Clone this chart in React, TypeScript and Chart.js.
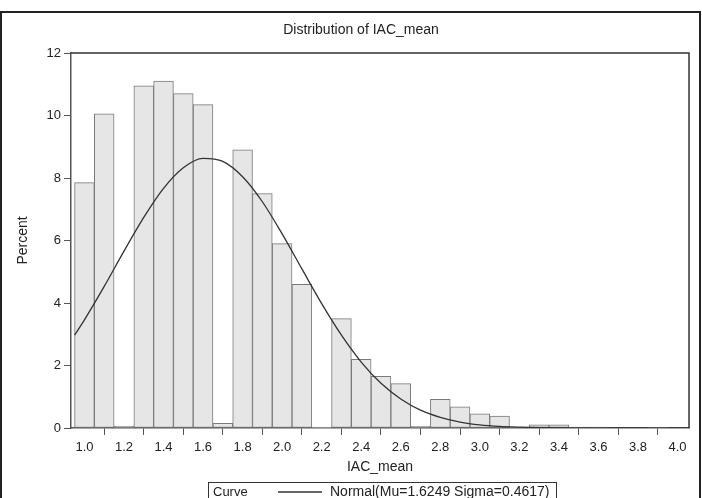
import React, { useEffect, useRef } from "react";
import { Chart, registerables } from "chart.js";

Chart.register(...registerables);

// ---- Data ----
const binCenters = [
  1.0, 1.1, 1.2, 1.3, 1.4, 1.5, 1.6, 1.7, 1.8, 1.9,
  2.0, 2.1, 2.2, 2.3, 2.4, 2.5, 2.6, 2.7, 2.8, 2.9,
  3.0, 3.1, 3.2, 3.3, 3.4, 3.5, 3.6, 3.7, 3.8, 3.9, 4.0,
];
const percentValues = [
  7.85, 10.05, 0.05, 10.95, 11.1, 10.7, 10.35, 0.15, 8.9, 7.5,
  5.9, 4.6, 0.03, 3.5, 2.2, 1.65, 1.42, 0.05, 0.92, 0.68,
  0.45, 0.38, 0.03, 0.1, 0.1, 0.03, 0.03, 0, 0, 0.02, 0,
];
const curveX = [
  0.95, 1.0, 1.1, 1.2, 1.3, 1.4, 1.5, 1.6, 1.7, 1.8, 1.9,
  2.0, 2.1, 2.2, 2.3, 2.4, 2.5, 2.6, 2.7, 2.8, 2.9,
  3.0, 3.1, 3.2, 3.3, 3.4, 3.5, 3.6, 3.7, 3.8, 3.9, 4.0, 4.05,
];
const curveY = [
  2.97, 3.46, 4.53, 5.66, 6.74, 7.67, 8.33, 8.63, 8.53, 8.04, 7.24,
  6.21, 5.09, 3.98, 2.97, 2.11, 1.43, 0.93, 0.57, 0.34, 0.19,
  0.1, 0.05, 0.026, 0.012, 0.005, 0.002, 0.001, 0, 0, 0, 0, 0,
];
const xTickValues = [1.0, 1.2, 1.4, 1.6, 1.8, 2.0, 2.2, 2.4, 2.6, 2.8, 3.0, 3.2, 3.4, 3.6, 3.8, 4.0];
const yTickValues = [0, 2, 4, 6, 8, 10, 12];

const titleText = "Distribution of IAC_mean";
const xAxisTitle = "IAC_mean";
const yAxisTitle = "Percent";
const legendLabel = "Curve";
const legendEntry = "Normal(Mu=1.6249 Sigma=0.4617)";

const FONT = "'Liberation Sans', Arial, sans-serif";
const TEXT = "#222";
const AXIS = "#555";

const framePlugin = {
  id: "sasFrame",
  afterDraw(chart: any) {
    const { ctx, chartArea: a } = chart;
    ctx.save();
    // outer frame
    ctx.strokeStyle = "#222";
    ctx.lineWidth = 2;
    ctx.strokeRect(1, 12, 699, 500);
    // plot top / right frame
    ctx.lineWidth = 1.5;
    ctx.strokeStyle = "#333";
    ctx.beginPath();
    ctx.moveTo(a.left, a.top);
    ctx.lineTo(a.right, a.top);
    ctx.lineTo(a.right, a.bottom);
    ctx.stroke();
    // title
    ctx.fillStyle = TEXT;
    ctx.font = `14px ${FONT}`;
    ctx.textAlign = "center";
    ctx.textBaseline = "middle";
    ctx.fillText(titleText, 361, 30);
    // legend box
    const left = 208;
    const right = 556;
    const top = 482;
    ctx.lineWidth = 1;
    ctx.strokeStyle = "#333";
    ctx.strokeRect(left + 0.5, top + 0.5, right - left, 40);
    ctx.font = `13px ${FONT}`;
    ctx.textAlign = "left";
    ctx.fillText(legendLabel, left + 5, 492);
    ctx.beginPath();
    ctx.moveTo(left + 70, 492);
    ctx.lineTo(left + 114, 492);
    ctx.lineWidth = 1.3;
    ctx.stroke();
    ctx.font = `14px ${FONT}`;
    ctx.fillText(legendEntry, left + 122, 492);
    ctx.restore();
  },
};

export default function App() {
  const ref = useRef<HTMLCanvasElement | null>(null);

  useEffect(() => {
    if (!ref.current) return;
    const chart = new Chart(ref.current, {
      type: "bar",
      data: {
        datasets: [
          {
            type: "line",
            label: legendEntry,
            data: curveX.map((x, i) => ({ x, y: curveY[i] })),
            borderColor: "#333",
            borderWidth: 1.3,
            pointRadius: 0,
            cubicInterpolationMode: "monotone",
            fill: false,
            order: 0,
          } as any,
          {
            type: "bar",
            label: "Percent",
            data: binCenters.map((x, i) => ({ x, y: percentValues[i] })),
            backgroundColor: "#e6e6e6",
            borderColor: "#7a7a7a",
            borderWidth: 1,
            borderSkipped: false,
            barPercentage: 1,
            categoryPercentage: 1,
            order: 1,
          } as any,
        ],
      },
      options: {
        responsive: false,
        animation: false,
        layout: { padding: { left: 0, top: 53, right: 13, bottom: 22 } },
        plugins: {
          legend: { display: false },
          title: { display: false },
          tooltip: { enabled: false },
        },
        scales: {
          x: {
            type: "linear",
            min: 0.932,
            max: 4.058,
            offset: false,
            afterBuildTicks: (s: any) => {
              s.ticks = xTickValues.map((v) => ({ value: v }));
            },
            afterFit: (s: any) => {
              s.height = 48;
            },
            ticks: {
              autoSkip: false,
              maxRotation: 0,
              padding: 5,
              color: TEXT,
              font: { family: FONT, size: 13 },
              callback: (v: any) => Number(v).toFixed(1),
            },
            grid: {
              drawOnChartArea: false,
              drawTicks: true,
              tickLength: 7,
              tickColor: AXIS,
            },
            border: { display: true, color: AXIS, width: 1.5 },
            title: {
              display: true,
              text: xAxisTitle,
              color: TEXT,
              font: { family: FONT, size: 14 },
              padding: { top: 0, bottom: 0 },
            },
          },
          y: {
            type: "linear",
            min: 0,
            max: 12,
            afterBuildTicks: (s: any) => {
              s.ticks = yTickValues.map((v) => ({ value: v }));
            },
            afterFit: (s: any) => {
              s.width = 71;
            },
            ticks: {
              padding: 3,
              color: TEXT,
              font: { family: FONT, size: 13 },
            },
            grid: {
              drawOnChartArea: false,
              drawTicks: true,
              tickLength: 7,
              tickColor: AXIS,
            },
            border: { display: true, color: AXIS, width: 1.5 },
            title: {
              display: true,
              text: yAxisTitle,
              color: TEXT,
              font: { family: FONT, size: 14 },
              padding: { top: 15, bottom: 0 },
            },
          },
        },
      },
      plugins: [framePlugin],
    });
    return () => chart.destroy();
  }, []);

  return (
    <div style={{ position: "absolute", left: 0, top: 0, width: 702, height: 498, background: "#fff" }}>
      <canvas ref={ref} width={702} height={498} style={{ display: "block" }} />
    </div>
  );
}
